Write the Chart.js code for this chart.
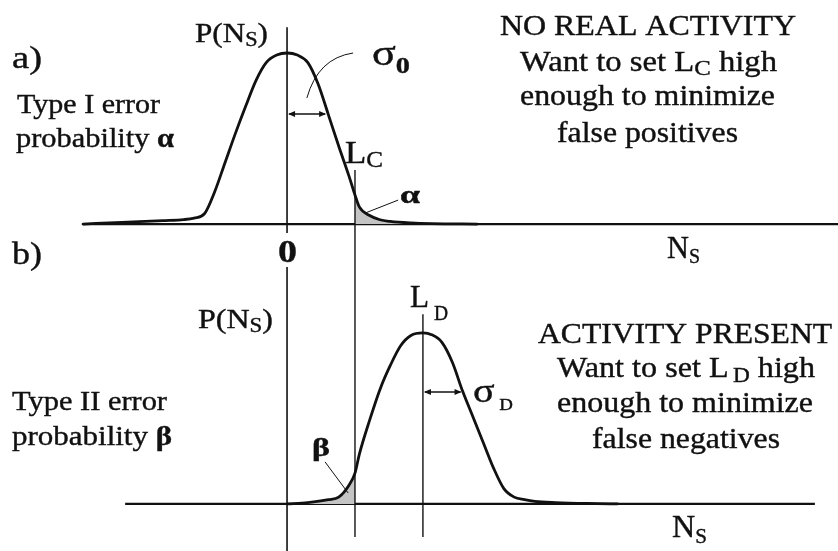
<!DOCTYPE html>
<html>
<head>
<meta charset="utf-8">
<title>Detection limits L_C and L_D</title>
<script src="https://cdn.jsdelivr.net/npm/chart.js@4.4.0/dist/chart.umd.min.js"></script>
<style>
  html, body { margin: 0; padding: 0; background: #fff; }
  #wrap { position: relative; width: 838px; height: 551px; }
</style>
</head>
<body>
<div id="wrap"><canvas id="chart"></canvas></div>
<script>
// N_S in units of sigma, P(N_S) scaled so the peak is 1
const LC = 1.645;
const LD = 3.29;

// a) no real activity, centred on 0
const topX = [-4.94, -4, -3, -2.5, -2.25, -2, -1.75, -1.5, -1.25, -1, -0.75, -0.5, -0.25, 0,
  0.25, 0.5, 0.75, 1, 1.25, 1.5, 1.645, 1.75, 2, 2.25, 2.5, 3, 3.5, 4.6];
const topY = [0, 0.01, 0.02, 0.026, 0.035, 0.06, 0.19, 0.36, 0.53, 0.69, 0.84, 0.945, 0.988, 1,
  0.988, 0.945, 0.82, 0.64, 0.456, 0.28, 0.17, 0.1, 0.05, 0.025, 0.015, 0.006, 0.002, 0];

// b) activity present, centred on L_D
const botX = [0, 0.5, 1, 1.25, 1.5, 1.645, 1.75, 2, 2.25, 2.5, 2.75, 3, 3.29,
  3.5, 3.75, 4, 4.25, 4.5, 4.75, 5, 5.25, 5.5, 5.75, 6, 6.5, 7.5, 8];
const botY = [0, 0.008, 0.025, 0.04, 0.11, 0.18, 0.29, 0.49, 0.67, 0.81, 0.925, 0.985, 1,
  0.99, 0.945, 0.83, 0.66, 0.51, 0.36, 0.21, 0.09, 0.04, 0.025, 0.015, 0.008, 0.002, 0];

const topPts = topX.map((x, i) => ({ x: x, y: topY[i] }));
const botPts = botX.map((x, i) => ({ x: x, y: botY[i] }));
const alphaPts = topPts.filter(p => p.x >= LC);
const betaPts = botPts.filter(p => p.x <= LC);

const INK = '#111';
const SERIF = '"Liberation Serif", "Times New Roman", serif';

// draws a run of text pieces, stretched to a given width
function rich(ctx, parts, x, y, w) {
  let total = 0;
  parts.forEach(p => {
    ctx.font = (p.bold ? 'bold ' : '') + p.size + 'px ' + SERIF;
    p.w = ctx.measureText(p.t).width;
    total += p.w + (p.dx || 0);
  });
  const sx = w ? w / total : 1;
  ctx.save();
  ctx.translate(x, y);
  ctx.scale(sx, 1);
  ctx.fillStyle = INK;
  ctx.strokeStyle = INK;
  ctx.lineWidth = 0.4;
  ctx.textBaseline = 'alphabetic';
  let cx = 0;
  parts.forEach(p => {
    cx += p.dx || 0;
    ctx.font = (p.bold ? 'bold ' : '') + p.size + 'px ' + SERIF;
    ctx.fillText(p.t, cx, p.dy || 0);
    ctx.strokeText(p.t, cx, p.dy || 0);
    cx += p.w;
  });
  ctx.restore();
}

function arrowHead(ctx, x, y, dir) {
  ctx.beginPath();
  ctx.moveTo(x, y);
  ctx.lineTo(x - dir * 7, y - 3);
  ctx.lineTo(x - dir * 7, y + 3);
  ctx.closePath();
  ctx.fill();
}

function line(ctx, x1, y1, x2, y2, width) {
  ctx.lineWidth = width;
  ctx.beginPath();
  ctx.moveTo(x1, y1);
  ctx.lineTo(x2, y2);
  ctx.stroke();
}

const diagram = {
  id: 'diagram',
  beforeDatasetsDraw(chart) {
    const ctx = chart.ctx;
    const X = v => chart.scales.x.getPixelForValue(v);
    const TY = v => chart.scales.yTop.getPixelForValue(v);
    const BY = v => chart.scales.yBot.getPixelForValue(v);
    ctx.save();
    ctx.strokeStyle = INK;
    // baselines
    line(ctx, X(-4.94), TY(0), chart.chartArea.right, TY(0), 2.2);
    line(ctx, X(-3.92), BY(0), X(12.78), BY(0), 2.2);
    ctx.restore();
  },
  afterDatasetsDraw(chart) {
    const ctx = chart.ctx;
    const X = v => chart.scales.x.getPixelForValue(v);
    const TY = v => chart.scales.yTop.getPixelForValue(v);
    const BY = v => chart.scales.yBot.getPixelForValue(v);
    ctx.save();
    ctx.strokeStyle = INK;
    ctx.fillStyle = INK;

    // vertical markers at 0, L_C and L_D
    line(ctx, X(0), TY(1.15), X(0), TY(-0.053), 1.6);
    line(ctx, X(0), TY(-0.251), X(0), chart.chartArea.bottom, 1.6);
    line(ctx, X(LC), TY(0.316), X(LC), BY(-0.193), 1.4);
    line(ctx, X(LD), BY(1.11), X(LD), BY(-0.193), 1.4);

    // sigma arrows
    const ya = TY(0.643);
    line(ctx, X(0) + 2, ya, X(0.97) - 2, ya, 1.4);
    arrowHead(ctx, X(0) + 1, ya, -1);
    arrowHead(ctx, X(0.97) - 1, ya, 1);
    const yb = BY(0.655);
    line(ctx, X(LD) + 2, yb, X(4.25) - 2, yb, 1.4);
    arrowHead(ctx, X(LD) + 1, yb, -1);
    arrowHead(ctx, X(4.25) - 1, yb, 1);

    // leader lines
    ctx.lineWidth = 1;
    ctx.beginPath();
    ctx.moveTo(X(0.48), TY(0.737));
    ctx.quadraticCurveTo(X(0.75), TY(0.97), X(1.6), TY(1.0));
    ctx.stroke();
    line(ctx, X(1.89), TY(0.064), X(2.69), TY(0.14), 1);
    line(ctx, X(0.92), BY(0.246), X(1.48), BY(0.064), 1);

    // text
    rich(ctx, [{ t: 'a)', size: 32 }], 12, 68, 30);
    rich(ctx, [{ t: 'P(N', size: 28 }, { t: 'S', size: 20, dy: 4 }, { t: ')', size: 28 }], 195, 42, 73);
    rich(ctx, [{ t: 'Type I error', size: 28 }], 17, 113, 143);
    rich(ctx, [{ t: 'probability ', size: 28 }, { t: 'α', size: 28, bold: true }], 16, 147, 158);
    rich(ctx, [{ t: 'NO REAL ACTIVITY', size: 29 }], 500, 35, 296);
    rich(ctx, [{ t: 'Want to set L', size: 29 }, { t: 'C', size: 22, dy: 4 }, { t: ' high', size: 29 }], 520, 71, 257);
    rich(ctx, [{ t: 'enough to minimize', size: 29 }], 520, 105, 255);
    rich(ctx, [{ t: 'false positives', size: 29 }], 557, 142, 181);
    rich(ctx, [{ t: 'σ', size: 36 }, { t: '0', size: 23, bold: true, dy: 8 }], 372, 65, 38);
    rich(ctx, [{ t: 'L', size: 32 }, { t: 'C', size: 23, dy: 4 }], 345, 163, 38);
    rich(ctx, [{ t: 'α', size: 26, bold: true }], 400, 203, 20);
    rich(ctx, [{ t: '0', size: 32, bold: true }], 278, 262, 19);
    rich(ctx, [{ t: 'b)', size: 32 }], 12, 264, 30);
    rich(ctx, [{ t: 'N', size: 32 }, { t: 'S', size: 21, dy: 5 }], 667, 258, 33);

    rich(ctx, [{ t: 'P(N', size: 28 }, { t: 'S', size: 20, dy: 4 }, { t: ')', size: 28 }], 198, 328, 75);
    rich(ctx, [{ t: 'Type II error', size: 28 }], 12, 410, 155);
    rich(ctx, [{ t: 'probability ', size: 28 }, { t: 'β', size: 28, bold: true }], 12, 445, 160);
    rich(ctx, [{ t: 'β', size: 26, bold: true }], 312, 456, 18);
    rich(ctx, [{ t: 'L', size: 32 }, { t: 'D', size: 20, dy: 13, dx: 5 }], 410, 307, 38);
    rich(ctx, [{ t: 'σ', size: 34 }, { t: 'D', size: 16, dy: 8, dx: 4 }], 473, 402, 40);
    rich(ctx, [{ t: 'ACTIVITY PRESENT', size: 29 }], 538, 343, 294);
    rich(ctx, [{ t: 'Want to set L', size: 29 }, { t: 'D', size: 21, dy: 5, dx: 4 }, { t: ' high', size: 29 }], 557, 377, 258);
    rich(ctx, [{ t: 'enough to minimize', size: 29 }], 557, 412, 256);
    rich(ctx, [{ t: 'false negatives', size: 29 }], 592, 448, 188);
    rich(ctx, [{ t: 'N', size: 32 }, { t: 'S', size: 21, dy: 6 }], 672, 537, 35);
    ctx.restore();
  }
};

new Chart(document.getElementById('chart'), {
  type: 'line',
  data: {
    datasets: [
      { data: topPts, yAxisID: 'yTop', borderColor: INK, borderWidth: 2.8, fill: false, order: 1 },
      { data: botPts, yAxisID: 'yBot', borderColor: INK, borderWidth: 2.8, fill: false, order: 1 },
      { data: alphaPts, yAxisID: 'yTop', borderWidth: 0, borderColor: 'rgba(0,0,0,0)',
        backgroundColor: '#c4c4c4', fill: 'origin', order: 2 },
      { data: betaPts, yAxisID: 'yBot', borderWidth: 0, borderColor: 'rgba(0,0,0,0)',
        backgroundColor: '#c4c4c4', fill: 'origin', order: 2 }
    ]
  },
  options: {
    responsive: true,
    maintainAspectRatio: false,
    animation: false,
    events: [],
    layout: { padding: 0 },
    elements: {
      point: { radius: 0 },
      line: { cubicInterpolationMode: 'monotone', borderCapStyle: 'round', borderJoinStyle: 'round' }
    },
    plugins: { legend: { display: false }, tooltip: { enabled: false } },
    scales: {
      x: { type: 'linear', min: -6.95, max: 13.34, display: false },
      yTop: { type: 'linear', min: -1.912, max: 1.31, display: false },
      yBot: { type: 'linear', min: -0.275, max: 2.947, display: false }
    }
  },
  plugins: [diagram]
});
</script>
</body>
</html>
